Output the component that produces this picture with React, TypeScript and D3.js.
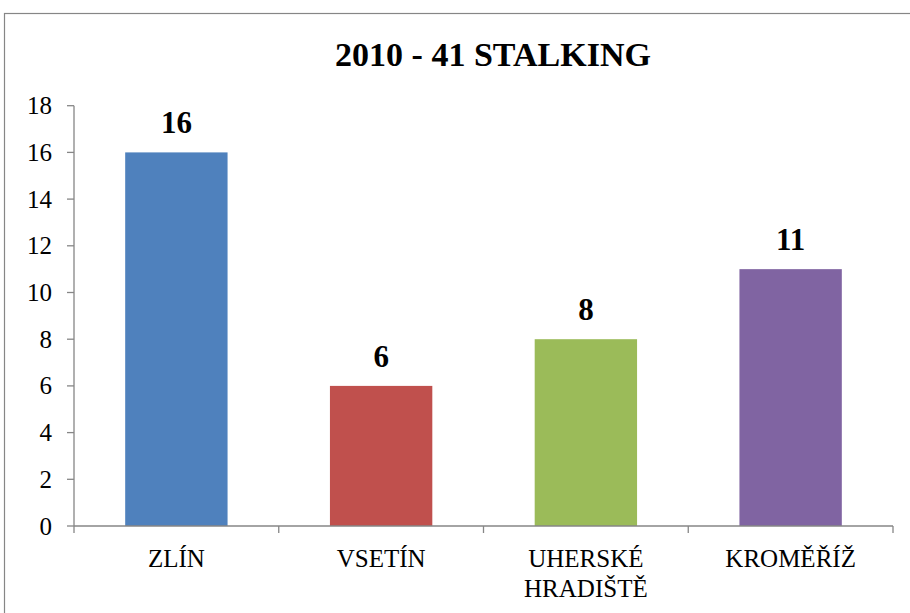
import React from "react";
import * as d3 from "d3";

const title = "2010 - 41 STALKING";
const categories = ["ZLÍN", "VSETÍN", "UHERSKÉ HRADIŠTĚ", "KROMĚŘÍŽ"];
const categoryLines = [["ZLÍN"], ["VSETÍN"], ["UHERSKÉ", "HRADIŠTĚ"], ["KROMĚŘÍŽ"]];
const values = [16, 6, 8, 11];
const colors = ["#4F81BD", "#C0504D", "#9BBB59", "#8064A2"];
const yTicks = [0, 2, 4, 6, 8, 10, 12, 14, 16, 18];

export default function App() {
  const W = 910, H = 613;
  const left = 74, right = 893, top = 105.7, bottom = 526;
  const x = d3.scaleBand<string>().domain(categories).range([left, right]).paddingInner(0.5).paddingOuter(0.25);
  const xb = d3.scaleBand<string>().domain(categories).range([left, right]);
  const y = d3.scaleLinear().domain([0, 18]).range([bottom, top]);
  const font = "\"Liberation Serif\", \"Nimbus Roman\", \"Nimbus Roman No9 L\", FreeSerif, \"Noto Serif\", \"DejaVu Serif\", Georgia, serif";
  const axisColor = "#868686";
  return (
    <svg width={W} height={H} style={{ position: "absolute", left: 0, top: 0, fontFamily: font }}>
      <rect x={0} y={0} width={W} height={H} fill="#fff" />
      <rect x={4.5} y={13.5} width={W + 10} height={H + 10} fill="none" stroke={axisColor} strokeWidth={1.2} />
      <text x={493} y={66} textAnchor="middle" fontSize={34} fontWeight="bold">{title}</text>
      {categories.map((c, i) => (
        <rect key={c} x={x(c)} y={y(values[i])} width={x.bandwidth()} height={y(0) - y(values[i])} fill={colors[i]} />
      ))}
      <line x1={left} x2={left} y1={top} y2={bottom} stroke={axisColor} strokeWidth={1.3} />
      {yTicks.map((t) => (
        <g key={t}>
          <line x1={left - 7} x2={left} y1={y(t)} y2={y(t)} stroke={axisColor} strokeWidth={1.3} />
          <text x={52} y={y(t)} dy="0.34em" textAnchor="end" fontSize={25}>{t}</text>
        </g>
      ))}
      <line x1={left} x2={right} y1={bottom} y2={bottom} stroke={axisColor} strokeWidth={1.3} />
      {[...categories.map((c) => xb(c) as number), right].map((p, i) => (
        <line key={i} x1={p} x2={p} y1={bottom} y2={bottom + 7} stroke={axisColor} strokeWidth={1.3} />
      ))}
      {categories.map((c, i) => (
        <text key={c} textAnchor="middle" fontSize={25}>
          {categoryLines[i].map((l, j) => (
            <tspan key={j} x={(xb(c) as number) + xb.bandwidth() / 2} y={566.5 + j * 30}>{l}</tspan>
          ))}
        </text>
      ))}
      {categories.map((c, i) => (
        <text key={c} x={(x(c) as number) + x.bandwidth() / 2} y={y(values[i]) - 19} textAnchor="middle" fontSize={31} fontWeight="bold">{values[i]}</text>
      ))}
    </svg>
  );
}
